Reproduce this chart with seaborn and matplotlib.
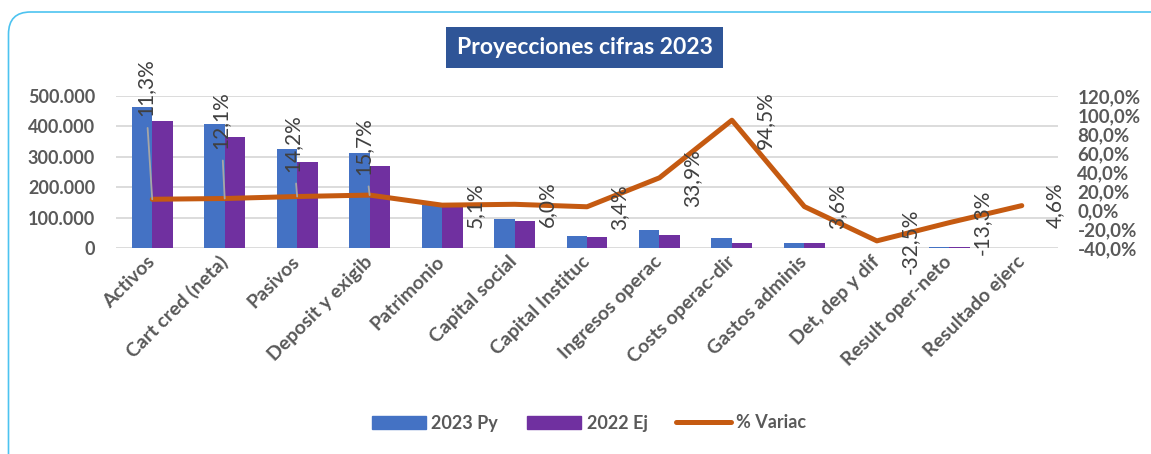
import numpy as np
import pandas as pd
import matplotlib
matplotlib.use("Agg")
import matplotlib.pyplot as plt
from matplotlib.patches import Patch, Rectangle, FancyBboxPatch
from matplotlib.lines import Line2D
from matplotlib.ticker import FuncFormatter
from matplotlib.transforms import IdentityTransform
import seaborn as sns

# Data
categories = ["Activos", "Cart cred (neta)", "Pasivos", "Deposit y exigib",
              "Patrimonio", "Capital social", "Capital Instituc",
              "Ingresos operac", "Costs operac-dir", "Gastos adminis",
              "Det, dep y dif", "Result oper-neto", "Resultado ejerc"]
py_2023 = [465000, 408000, 325000, 311000, 142000, 94500, 38000,
           58000, 32000, 16500, 400, 2600, 1200]
ej_2022 = [418000, 364000, 284000, 269000, 135000, 89200, 36800,
           43300, 16450, 15900, 600, 3000, 1150]
variac = [11.3, 12.1, 14.2, 15.7, 5.1, 6.0, 3.4, 33.9, 94.5, 3.6, -32.5, -13.3, 4.6]
series_names = ["2023 Py", "2022 Ej", "% Variac"]

# Colours
blue = "#4472C4"
purple = "#7030A0"
orange = "#C55A11"
grey_txt = "#595959"
label_txt = "#404040"

sns.set_style("white")
plt.rcParams["font.family"] = ["Lato", "DejaVu Sans"]

df = pd.DataFrame({
    "Cuenta": categories * 2,
    "Valor": py_2023 + ej_2022,
    "Serie": [series_names[0]] * len(categories) + [series_names[1]] * len(categories),
})

W, H = 1151, 454
fig = plt.figure(figsize=(W / 100, H / 100), dpi=100)
ax = fig.add_axes([116 / W, 1 - 248 / H, (1058 - 116) / W, (248 - 96) / H])

sns.barplot(data=df, x="Cuenta", y="Valor", hue="Serie",
            palette=[blue, purple], saturation=1, width=0.565,
            linewidth=0, legend=False, ax=ax)
ax.set_xlim(-0.5, len(categories) - 0.5)
ax.set_ylim(0, 500000)
ax.set_yticks(np.arange(0, 500001, 100000))
ax.set_xlabel("")
ax.set_ylabel("")
ax.yaxis.grid(True, color="#D9D9D9", lw=1.3)
ax.set_axisbelow(True)
ax.yaxis.set_major_formatter(FuncFormatter(lambda v, p: f"{v:,.0f}".replace(",", ".")))
ax.tick_params(axis="y", length=0, pad=15, labelsize=13, labelcolor=grey_txt)
ax.tick_params(axis="x", length=0, pad=8, labelsize=14, labelcolor=grey_txt)
for t in ax.get_yticklabels():
    t.set_fontweight("bold")
for t in ax.get_xticklabels():
    t.set_fontweight("bold")
    t.set_rotation(45)
    t.set_ha("right")
    t.set_va("center")
    t.set_rotation_mode("anchor")
for s in ax.spines.values():
    s.set_visible(False)

# % variation on the secondary axis
ax2 = ax.twinx()
pct = np.array(variac) / 100
sns.lineplot(x=np.arange(len(categories)), y=pct, color=orange, lw=3.6,
             solid_capstyle="round", solid_joinstyle="round", ax=ax2)
ax2.set_ylim(-0.4, 1.2)
ax2.set_yticks(np.arange(-0.4, 1.21, 0.2))
ax2.yaxis.set_major_formatter(FuncFormatter(lambda v, p: f"{v * 100:.1f}%".replace(".", ",")))
ax2.tick_params(axis="y", length=0, pad=14, labelsize=13.5, labelcolor=grey_txt)
for t in ax2.get_yticklabels():
    t.set_fontweight("bold")
for s in ax2.spines.values():
    s.set_visible(False)

# data labels; first four were dragged up with leader lines
moved = [(-0.10, 1.29), (0.946, 0.947), (1.94, 0.705), (2.92, 0.674)]
for i, v in enumerate(pct):
    lbl = f"{variac[i]:.1f}%".replace(".", ",")
    if i < len(moved):
        ax2.annotate(lbl, xy=(i, v), xytext=moved[i], rotation=90,
                     ha="center", va="center", fontsize=15, color=label_txt,
                     arrowprops=dict(arrowstyle="-", color="#A6A6A6", lw=1.3,
                                     shrinkA=6, shrinkB=0))
    else:
        ax2.text(i + 0.45, v, lbl, rotation=90, ha="center", va="center",
                 fontsize=15, color=label_txt)

# title box
fig.add_artist(Rectangle((446 / W, 1 - 68 / H), 277 / W, 41 / H,
                         transform=fig.transFigure, color="#2F5597", lw=0))
fig.text(584.5 / W, 1 - 47.5 / H, "Proyecciones cifras 2023", ha="center",
         va="center", color="white", fontsize=16.5, fontweight="bold")

# legend
handles = [Patch(color=blue), Patch(color=purple),
           Line2D([], [], color=orange, lw=3.6, solid_capstyle="round")]
fig.legend(handles, series_names, loc="center", bbox_to_anchor=(589 / W, 1 - 423 / H),
           ncol=3, frameon=False, prop={"weight": "bold", "size": 13},
           labelcolor=grey_txt, handlelength=3.0, handleheight=0.7,
           handletextpad=0.3, columnspacing=1.6)

# rounded chart border
fig.add_artist(FancyBboxPatch((8.5, -40), 1180, H - 12 + 40,
                              boxstyle="round,pad=0,rounding_size=22",
                              transform=IdentityTransform(), fill=False,
                              ec="#4DC3F0", lw=1.2))

fig.savefig("out.png", dpi=100)
